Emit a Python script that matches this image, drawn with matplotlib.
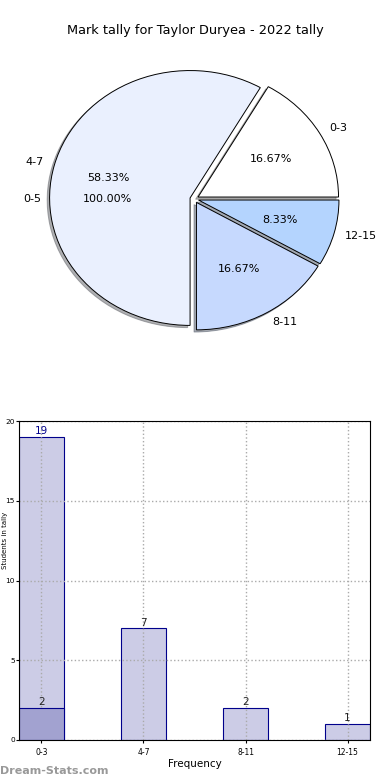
import matplotlib.pyplot as plt
import numpy as np

# data
title = "Mark tally for Taylor Duryea - 2022 tally"
categories = ["0-3", "4-7", "8-11", "12-15"]
counts = [2, 7, 2, 1]
pie_colors = ["#ffffff", "#eaf0fe", "#c6d9fe", "#b4d4fe"]
overlay_label = ["0-5"]
overlay_value = [1]
bar_values = [19, 7, 2, 1]
highlight_values = [2]

fig = plt.figure(figsize=(3.9, 7.8), dpi=100)
fig.text(0.5, 0.961, title, ha="center", va="center", fontsize=9.3)

# pie
ax1 = fig.add_axes([48 / 390, 1 - 333 / 780, 294 / 390, 268 / 780])
ax1.pie(overlay_value, labels=overlay_label, autopct="%.2f%%", startangle=0,
        radius=1.0, labeldistance=1.06, pctdistance=0.6,
        wedgeprops=dict(fill=False, linewidth=0),
        textprops=dict(fontsize=8))
ax1.pie(counts, labels=categories, colors=pie_colors, autopct="%.2f%%",
        startangle=0, explode=[0.03] * 4,
        shadow=dict(ox=-0.012, oy=-0.012, shade=0.6),
        radius=0.97, labeldistance=1.08, pctdistance=0.6,
        wedgeprops=dict(edgecolor="black", linewidth=0.7),
        textprops=dict(fontsize=8))
ax1.set_aspect("auto")
ax1.set_xlim(-1.01, 1.02)
ax1.set_ylim(-1.02, 1.02)

# bars
ax2 = fig.add_axes([19 / 390, 1 - 740 / 780, 351 / 390, 319 / 780])
x = np.arange(len(categories))
ax2.bar(x, bar_values, width=0.44, color="#ccccE6", edgecolor="#00008b", linewidth=0.8, zorder=2)
ax2.bar([0], highlight_values, width=0.44, color="#a2a2d0", edgecolor="#00008b", linewidth=0.8, zorder=3)
for i, v in enumerate(bar_values):
    ax2.text(i, v + 0.05, str(v), ha="center", va="bottom", fontsize=7.5,
             color="#00008b" if i == 0 else "#222222", zorder=4)
ax2.text(0, highlight_values[0] + 0.05, str(highlight_values[0]), ha="center", va="bottom",
         fontsize=7.5, color="#222222", zorder=4)
ax2.set_xlim(-0.22, 3.22)
ax2.set_ylim(0, 20)
ax2.set_xticks(x)
ax2.set_xticklabels(categories, fontsize=5.5)
ax2.set_yticks([0, 5, 10, 15, 20])
ax2.tick_params(axis="y", labelsize=5.3, length=2, pad=1)
ax2.tick_params(axis="x", length=2)
ax2.grid(True, linestyle=":", color="#aaaaaa", linewidth=1, zorder=5)
ax2.set_axisbelow(False)
for s in ax2.spines.values():
    s.set_zorder(6)
ax2.set_xlabel("Frequency", fontsize=7.5, labelpad=2)
ax2.set_ylabel("Students in tally", fontsize=5)
ax2.yaxis.set_label_coords(-0.030, 0.625)

fig.text(0.0, 0.012, "Dream-Stats.com", fontsize=8, color="#999999", fontweight="bold",
         ha="left", va="center")

fig.savefig("out.png", dpi=100)
